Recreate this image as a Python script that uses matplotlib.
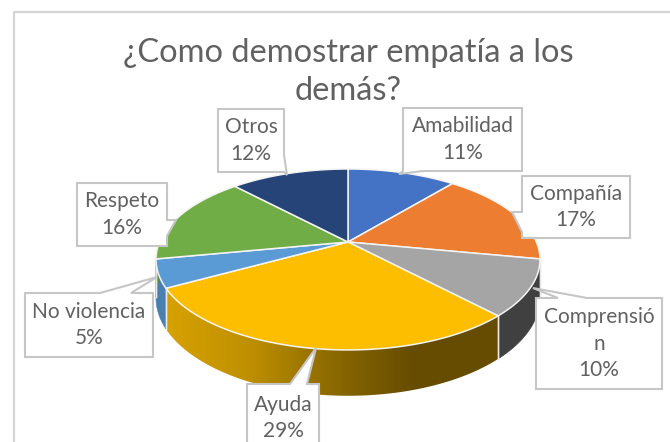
#!/usr/bin/env python3
import numpy as np
import matplotlib
matplotlib.use("Agg")
import matplotlib.pyplot as plt
from matplotlib.patches import Polygon

plt.rcParams['font.family'] = ['Lato', 'DejaVu Sans']

# Data
categories = ["Amabilidad", "Compañía", "Comprensión", "Ayuda", "No violencia", "Respeto", "Otros"]
values = [11, 17, 10, 29, 5, 16, 12]
title_lines = ["¿Como demostrar empatía a los", "demás?"]

top_colors = ["#4472C4", "#ED7D31", "#A5A5A5", "#FDBE00", "#5B9BD5", "#70AD47", "#264478"]
side_colors = ["#2F5597", "#B85F1F", "#404040", None, "#4A80B0", "#5A8A38", "#1B3157"]

TEXT = "#616161"
BOX = "#C6C6C6"

# Pie geometry in pixels, with a perspective tilt
cx, cy = 348, 242
ax_x, ax_y, persp, depth = 188.4, 87.1, 0.193, 37.0


def project(theta, drop=0.0):
    # theta in degrees, clockwise from the back of the pie
    t = np.radians(theta)
    w = 1 + persp * np.cos(t)
    return cx + ax_x * np.sin(t) / w, cy - ax_y * np.cos(t) / w + drop * depth / w


fig = plt.figure(figsize=(6.7, 4.42), dpi=100)
ax = fig.add_axes([0, 0, 1, 1])

# Chart area border (left and top only are in the crop)
ax.plot([13.5, 13.5, 670], [442, 11.5, 11.5], color="#D4D4D4", lw=1.6, zorder=1)

edges = np.cumsum([0] + values) * 3.6

# Side wall, front half only
for i in range(len(values)):
    a0, a1 = max(edges[i], 90), min(edges[i + 1], 270)
    if a1 <= a0:
        continue
    th = np.linspace(a0, a1, 150)
    xt, yt = project(th)
    xb, yb = project(th, 1)
    outline = np.column_stack([np.r_[xt, xb[::-1]], np.r_[yt, yb[::-1]]])
    if side_colors[i] is None:
        # the Ayuda wall fades from left to right
        stops = [168, 250, 350, 415, 497]
        xs = np.linspace(160, 505, 346)
        grad = np.stack([np.interp(xs, stops, [214, 190, 130, 102, 102]),
                         np.interp(xs, stops, [161, 143, 98, 76, 76]),
                         np.zeros_like(xs)], axis=-1)[None, :, :] / 255
        img = ax.imshow(grad, extent=[160, 505, 420, 260], aspect="auto", zorder=2, interpolation="bilinear")
        patch = Polygon(outline, closed=True, transform=ax.transData, facecolor="none", edgecolor="none")
        ax.add_patch(patch)
        img.set_clip_path(patch)
    else:
        ax.add_patch(Polygon(outline, closed=True, facecolor=side_colors[i], edgecolor=side_colors[i], lw=0.4, zorder=2))
    # light seam between wall pieces
    for a in (a0, a1):
        if a in (90, 270):
            continue
        xs_seam, ys_seam = project(np.array([a, a]), np.array([0, 1]))
        ax.plot(xs_seam, ys_seam, color="#E8E8E8", lw=1.0, zorder=3)

# Top face
for i in range(len(values)):
    th = np.linspace(edges[i], edges[i + 1], 120)
    x, y = project(th)
    ax.fill(np.r_[cx, x], np.r_[cy, y], facecolor=top_colors[i], edgecolor="#F4F4F4",
            lw=1.1, joinstyle="round", zorder=4)

# Label boxes: rectangle, side the callout leaves from (0 top, 1 right, 2 bottom, 3 left), callout points
boxes = {
    "Amabilidad": ([403, 108, 522, 171], 2, [(423, 171), (399, 174), (403, 171)], None),
    "Compañía": ([522, 176, 630, 238], 3, [(522, 232), (512, 212), (522, 212)], None),
    "Comprensión": ([536, 298, 662, 389], 0, [(558, 298), (533, 288), (587, 298)], ["Comprensió", "n"]),
    "Ayuda": ([247, 384, 319, 452], 0, [(290, 384), (316, 348), (307, 384)], None),
    "No violencia": ([25, 293, 153, 357], 0, [(100, 293), (157, 277), (131, 293)], None),
    "Respeto": ([77, 183, 167, 246], 1, [(167, 220), (176, 220), (167, 236)], None),
    "Otros": ([218, 109, 284, 172], 1, [(284, 155), (287, 175), (284, 172)], None),
}

for name, val in zip(categories, values):
    (x0, y0, x1, y1), side, call, wrapped = boxes[name]
    corners = [(x0, y0), (x1, y0), (x1, y1), (x0, y1)]
    pts = corners[:side + 1] + call + corners[side + 1:]
    ax.add_patch(Polygon(pts, closed=True, facecolor="white", edgecolor=BOX, lw=1.5, joinstyle="miter", zorder=6))
    lines = (wrapped if wrapped else [name]) + [f"{val}%"]
    ax.text((x0 + x1) / 2, (y0 + y1) / 2, "\n".join(lines), ha="center", va="center",
            fontsize=15, color=TEXT, linespacing=1.42, zorder=7)

# Title
ax.text(348, 53, title_lines[0], ha="center", va="center", fontsize=23.5, color=TEXT, zorder=5)
ax.text(348, 91, title_lines[1], ha="center", va="center", fontsize=23.5, color=TEXT, zorder=5)

ax.set_xlim(0, 670)
ax.set_ylim(442, 0)
ax.axis("off")

fig.savefig("out.png", dpi=100, facecolor="white")
